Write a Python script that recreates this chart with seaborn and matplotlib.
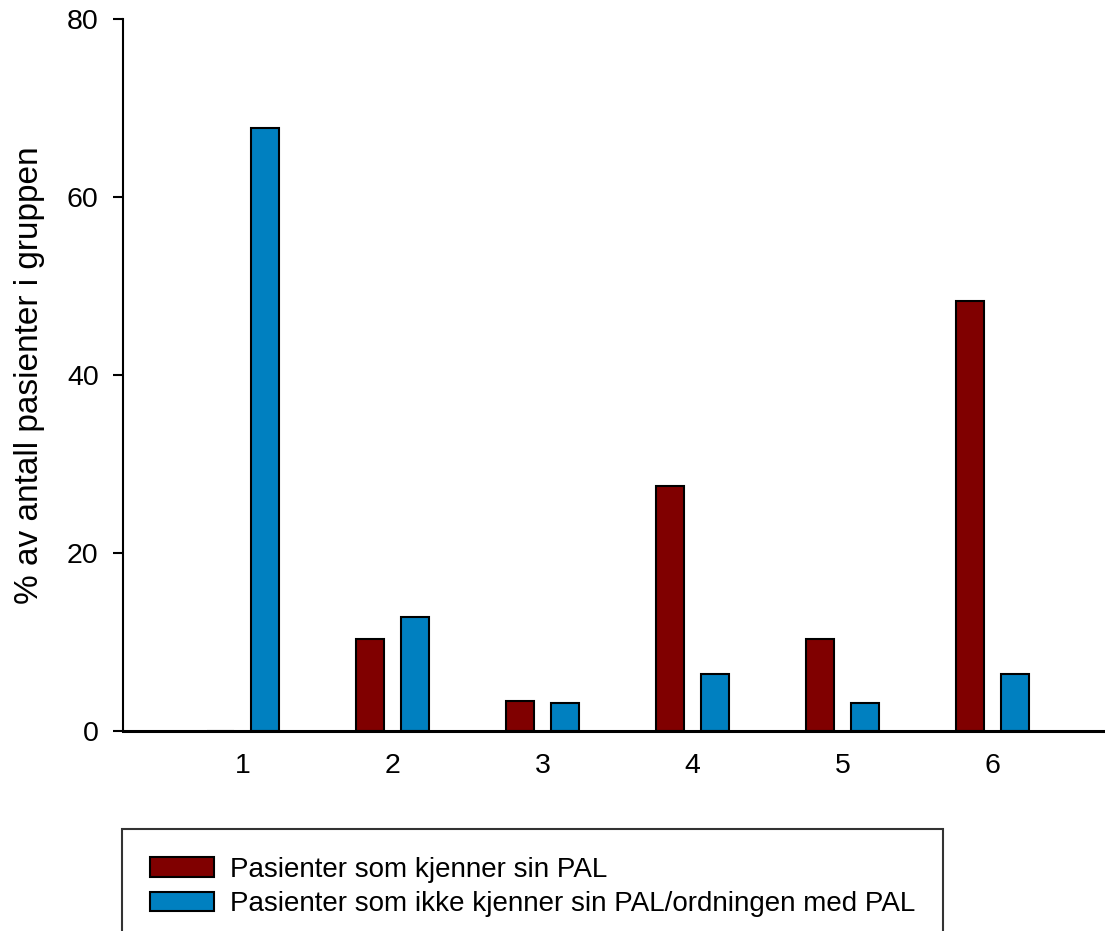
import pandas as pd
import matplotlib
matplotlib.use("Agg")
import matplotlib.pyplot as plt
import seaborn as sns

# Data
kategorier = ["1", "2", "3", "4", "5", "6"]
kjenner_pal = [0.0, 10.3, 3.4, 27.5, 10.3, 48.3]
kjenner_ikke_pal = [67.7, 12.8, 3.2, 6.4, 3.2, 6.4]
serie_navn = ["Pasienter som kjenner sin PAL",
              "Pasienter som ikke kjenner sin PAL/ordningen med PAL"]
farger = ["#800000", "#0080C0"]

df = pd.DataFrame({
    "kategori": kategorier * 2,
    "prosent": kjenner_pal + kjenner_ikke_pal,
    "gruppe": [serie_navn[0]] * 6 + [serie_navn[1]] * 6,
})

sns.set_style("white")
plt.rcParams["font.family"] = ["Liberation Sans", "DejaVu Sans"]
plt.rcParams["text.color"] = "black"
plt.rcParams["axes.labelcolor"] = "black"
plt.rcParams["xtick.color"] = "black"
plt.rcParams["ytick.color"] = "black"

fig = plt.figure(figsize=(11.05, 9.31), dpi=100)
ax = fig.add_axes([123 / 1105, 1 - 731 / 931, 1 - 123 / 1105, (731 - 19) / 931])

sns.barplot(data=df, x="kategori", y="prosent", hue="gruppe", order=kategorier,
            hue_order=serie_navn, palette=farger, width=0.6, gap=0.38,
            edgecolor="black", linewidth=1.5, saturation=1, ax=ax, legend=True)

ax.set_xlim(-0.8, 5.75)
ax.set_ylim(0, 80)
ax.set_yticks([0, 20, 40, 60, 80])
ax.set_xlabel("")
ax.set_ylabel("% av antall pasienter i gruppen", fontsize=24, labelpad=16)

for side in ["top", "right"]:
    ax.spines[side].set_visible(False)
ax.spines["left"].set_linewidth(1.5)
ax.spines["bottom"].set_linewidth(2.2)
ax.spines["left"].set_color("black")
ax.spines["bottom"].set_color("black")

ax.tick_params(axis="y", left=True, direction="out", length=7.5, width=1.5,
               pad=10, labelsize=20.5, color="black")
ax.tick_params(axis="x", bottom=False, length=0, pad=16, labelsize=20.5)

handles, labels = ax.get_legend_handles_labels()
ax.get_legend().remove()
leg = fig.legend(handles, labels, loc="upper left",
                 bbox_to_anchor=(122 / 1105, 1 - 829 / 931),
                 fontsize=20, frameon=True, fancybox=False,
                 edgecolor="black", borderpad=1.0, handlelength=2.3,
                 handleheight=0.72, handletextpad=0.6, labelspacing=0.3,
                 borderaxespad=0)
leg.get_frame().set_linewidth(1.5)

fig.savefig("out.png", dpi=100)
